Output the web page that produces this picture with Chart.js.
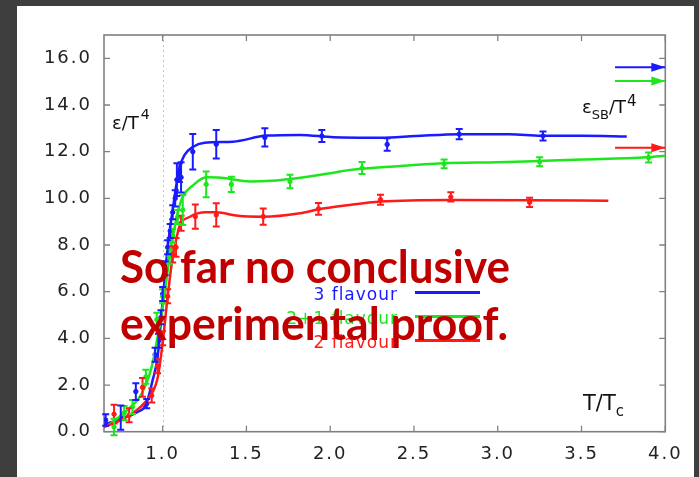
<!DOCTYPE html>
<html><head><meta charset="utf-8">
<script src="https://cdn.jsdelivr.net/npm/chart.js@4/dist/chart.umd.min.js"></script>
<style>
html,body{margin:0;padding:0;background:#3e3e3e;width:699px;height:477px;overflow:hidden;}
#panel{position:absolute;left:17px;top:6px;width:677px;height:471px;background:#fff;}
canvas{display:block;}
</style></head><body>
<div id="panel"><canvas id="c"></canvas></div>
<script>
// ---------- DATA ----------
const seriesNames = ['3 flavour', '2+1 flavour', '2 flavour'];
const xTickValues = [1.0, 1.5, 2.0, 2.5, 3.0, 3.5, 4.0];
const yTickValues = [0, 2, 4, 6, 8, 10, 12, 14, 16];

// fitted curves
const curve3T = [0.65,0.75,0.85,0.90,0.94,0.97,1.00,1.02,1.04,1.06,1.08,1.10,1.13,1.18,1.25,1.42,1.62,1.82,2.02,2.30,2.51,2.77,3.07,3.26,3.51,3.77];
const curve3V = [0.30,0.55,0.85,1.15,2.20,3.20,5.60,7.20,8.50,9.50,10.50,11.30,11.85,12.20,12.38,12.43,12.69,12.72,12.62,12.60,12.67,12.75,12.75,12.68,12.68,12.65];
const curve21T = [0.68,0.79,0.87,0.93,0.96,1.01,1.03,1.05,1.07,1.09,1.12,1.18,1.26,1.35,1.52,1.65,1.80,2.02,2.12,2.40,2.67,3.00,3.24,3.50,3.89,4.00];
const curve21V = [0.30,0.93,1.57,2.65,3.65,5.80,6.90,7.90,8.70,9.40,10.07,10.55,10.90,10.88,10.72,10.75,10.86,11.10,11.22,11.38,11.50,11.55,11.60,11.66,11.76,11.83];
const curve2T = [0.65,0.75,0.85,0.90,0.94,0.97,1.00,1.03,1.06,1.08,1.10,1.16,1.26,1.32,1.45,1.60,1.82,1.93,2.10,2.30,2.72,3.19,3.66];
const curve2V = [0.20,0.50,0.95,1.30,1.70,2.30,3.80,5.80,7.50,8.20,8.80,9.20,9.40,9.40,9.25,9.21,9.36,9.53,9.70,9.86,9.93,9.92,9.90];

// lattice points with errors
const pts3T = [0.66,0.75,0.84,0.905,0.955,0.975,0.99,1.00,1.015,1.03,1.045,1.06,1.075,1.085,1.10,1.11,1.18,1.32,1.61,1.95,2.34,2.77,3.27];
const pts3V = [0.50,0.60,1.72,1.20,3.30,3.90,4.90,5.90,7.00,7.90,8.60,9.40,10.00,10.80,11.10,10.90,12.00,12.32,12.61,12.67,12.31,12.75,12.67];
const pts3E = [0.25,0.52,0.36,0.20,0.30,0.30,0.30,0.30,0.30,0.30,0.30,0.30,0.35,0.70,0.40,0.65,0.76,0.61,0.39,0.26,0.27,0.22,0.19];
const pts21T = [0.71,0.77,0.82,0.90,0.965,1.00,1.04,1.06,1.09,1.12,1.26,1.41,1.76,2.19,2.68,3.25,3.90];
const pts21V = [0.20,0.80,1.06,2.35,4.80,5.80,7.50,8.40,9.20,9.50,10.60,10.60,10.72,11.30,11.48,11.57,11.75];
const pts21E = [0.35,0.30,0.30,0.30,0.30,0.30,0.30,0.30,0.30,0.64,0.55,0.33,0.29,0.26,0.19,0.19,0.21];
const pts2T = [0.71,0.80,0.88,0.935,0.97,1.00,1.03,1.06,1.08,1.11,1.195,1.32,1.60,1.93,2.30,2.72,3.19];
const pts2V = [0.75,0.70,1.90,1.55,2.80,4.00,5.80,7.60,7.90,8.93,9.22,9.29,9.22,9.55,9.94,10.06,9.83];
const pts2E = [0.40,0.30,0.40,0.30,0.30,0.30,0.30,0.35,0.40,0.32,0.52,0.50,0.35,0.25,0.21,0.20,0.20];

// Stefan-Boltzmann limits (arrows at right edge)
const sbArrowT = [3.70, 4.00];
const sbValues = [15.62, 15.03, 12.17];

// ---------- STYLE ----------
const COLORS = ['#1a1aff', '#1ee61e', '#ff1a1a'];
const AXIS = '#808080';

function pts(T, V) { return T.map((t, i) => ({ x: t, y: V[i] })); }

const curves = [[curve3T, curve3V], [curve21T, curve21V], [curve2T, curve2V]];
const points = [[pts3T, pts3V, pts3E], [pts21T, pts21V, pts21E], [pts2T, pts2V, pts2E]];

const datasets = [];
[2, 1, 0].forEach(k => {
  datasets.push({
    label: seriesNames[k] + ' fit', data: pts(curves[k][0], curves[k][1]),
    showLine: true, borderColor: COLORS[k], borderWidth: 2.5, pointRadius: 0,
    cubicInterpolationMode: 'monotone'
  });
  datasets.push({
    label: seriesNames[k], data: pts(points[k][0], points[k][1]), errors: points[k][2],
    showLine: false, pointRadius: 2.2, pointBackgroundColor: COLORS[k], pointBorderColor: COLORS[k],
    borderColor: COLORS[k], backgroundColor: COLORS[k]
  });
});
sbValues.forEach((v, k) => {
  datasets.push({
    label: seriesNames[k] + ' SB', data: sbArrowT.map(t => ({ x: t, y: v })), arrow: true,
    showLine: true, borderColor: COLORS[k], borderWidth: 2, pointRadius: 0
  });
});

const deco = {
  id: 'deco',
  beforeDraw(chart) { chart.ctx.letterSpacing = '2px'; },
  beforeDatasetsDraw(chart) {
    const ctx = chart.ctx, a = chart.chartArea, xs = chart.scales.x, ys = chart.scales.y;
    ctx.save();
    ctx.letterSpacing = '0px';
    ctx.strokeStyle = '#c4c4c4'; ctx.lineWidth = 1; ctx.setLineDash([2, 3]);
    const xc = Math.round(xs.getPixelForValue(1.0)) + 0.5;
    ctx.beginPath(); ctx.moveTo(xc, a.top); ctx.lineTo(xc, a.bottom); ctx.stroke();
    ctx.setLineDash([]);
    ctx.strokeStyle = AXIS; ctx.lineWidth = 1.6;
    ctx.strokeRect(a.left, a.top, a.right - a.left, a.bottom - a.top);
    ctx.lineWidth = 1.3;
    ctx.beginPath();
    xs.ticks.forEach(t => {
      const x = xs.getPixelForValue(t.value);
      ctx.moveTo(x, a.bottom); ctx.lineTo(x, a.bottom - 6);
      ctx.moveTo(x, a.top); ctx.lineTo(x, a.top + 6);
    });
    ys.ticks.forEach(t => {
      const y = ys.getPixelForValue(t.value);
      ctx.moveTo(a.left, y); ctx.lineTo(a.left + 6, y);
      ctx.moveTo(a.right, y); ctx.lineTo(a.right - 6, y);
    });
    ctx.stroke();
    ctx.restore();
    chart.ctx.letterSpacing = '0px';
  },
  afterDatasetsDraw(chart) {
    const ctx = chart.ctx, xs = chart.scales.x, ys = chart.scales.y;
    ctx.save();
    ctx.letterSpacing = '0px';
    chart.data.datasets.forEach((ds, di) => {
      const meta = chart.getDatasetMeta(di);
      if (ds.errors) {
        ctx.strokeStyle = ds.borderColor; ctx.lineWidth = 2;
        ctx.beginPath();
        ds.data.forEach((p, i) => {
          const x = meta.data[i].x;
          const y1 = ys.getPixelForValue(p.y + ds.errors[i]);
          const y2 = ys.getPixelForValue(p.y - ds.errors[i]);
          ctx.moveTo(x, y1); ctx.lineTo(x, y2);
          ctx.moveTo(x - 3.5, y1); ctx.lineTo(x + 3.5, y1);
          ctx.moveTo(x - 3.5, y2); ctx.lineTo(x + 3.5, y2);
        });
        ctx.stroke();
      }
      if (ds.arrow) {
        const end = ds.data[ds.data.length - 1];
        const x = xs.getPixelForValue(end.x), y = ys.getPixelForValue(end.y);
        ctx.fillStyle = ds.borderColor;
        ctx.beginPath();
        ctx.moveTo(x, y); ctx.lineTo(x - 14, y - 4.5); ctx.lineTo(x - 14, y + 4.5); ctx.closePath();
        ctx.fill();
      }
    });

    const OX = 17, OY = 6;
    ctx.fillStyle = '#111';
    ctx.textAlign = 'left'; ctx.textBaseline = 'alphabetic';
    ctx.font = '18px "DejaVu Sans"';
    ctx.fillText('ε/T', 112 - OX, 129 - OY);
    let w = ctx.measureText('ε/T').width;
    ctx.font = '14px "DejaVu Sans"';
    ctx.fillText('4', 112 - OX + w + 2, 119 - OY);

    let x0 = 582 - OX;
    ctx.font = '18px "DejaVu Sans"';
    ctx.fillText('ε', x0, 113 - OY); x0 += ctx.measureText('ε').width;
    ctx.font = '13px "DejaVu Sans"';
    ctx.fillText('SB', x0, 119 - OY); x0 += ctx.measureText('SB').width;
    ctx.font = '18px "DejaVu Sans"';
    ctx.fillText('/T', x0, 113 - OY); x0 += ctx.measureText('/T').width;
    ctx.font = '15px "DejaVu Sans"';
    ctx.fillText('4', x0 + 1, 106 - OY);

    x0 = 583 - OX;
    ctx.font = '21px "DejaVu Sans"';
    ctx.fillText('T/T', x0, 410 - OY); x0 += ctx.measureText('T/T').width;
    ctx.font = '15px "DejaVu Sans"';
    ctx.fillText('c', x0, 416 - OY);

    const legY = [292.5, 316.5, 340.5];
    ctx.font = '17px "DejaVu Sans"';
    ctx.textAlign = 'right';
    ctx.letterSpacing = '1px';
    seriesNames.forEach((n, k) => {
      ctx.fillStyle = COLORS[k];
      ctx.fillText(n, 398 - OX, legY[k] + 7 - OY);
    });
    ctx.letterSpacing = '0px';
    ctx.lineWidth = 3;
    seriesNames.forEach((n, k) => {
      ctx.strokeStyle = COLORS[k];
      ctx.beginPath(); ctx.moveTo(415 - OX, legY[k] - OY); ctx.lineTo(480 - OX, legY[k] - OY); ctx.stroke();
    });

    ctx.textAlign = 'left';
    ctx.fillStyle = '#c00000';
    ctx.font = 'bold 45px Lato';
    const lines = [['So far no conclusive', 283, 390], ['experimental proof.', 339.5, 388]];
    lines.forEach(([txt, base, tw]) => {
      const mw = ctx.measureText(txt).width;
      ctx.save();
      ctx.translate(120 - OX, base - OY);
      ctx.scale(tw / mw, 1);
      ctx.fillText(txt, 0, 0);
      ctx.restore();
    });
    ctx.restore();
  }
};

new Chart(document.getElementById('c'), {
  type: 'scatter',
  data: { datasets },
  options: {
    responsive: true, maintainAspectRatio: false, animation: false,
    layout: { padding: { top: 29, right: 28.7, left: 0, bottom: 0 } },
    plugins: { legend: { display: false }, tooltip: { enabled: false } },
    scales: {
      x: {
        type: 'linear', min: 0.65, max: 4.0,
        afterBuildTicks: s => { s.ticks = xTickValues.map(v => ({ value: v })); },
        afterFit: s => { s.height = 45.3; },
        grid: { display: false, drawTicks: false },
        border: { display: false },
        ticks: { padding: 12, maxRotation: 0, autoSkip: false, color: '#222',
          font: { family: 'DejaVu Sans', size: 18 }, callback: v => Number(v).toFixed(1) }
      },
      y: {
        type: 'linear', min: 0, max: 17,
        afterBuildTicks: s => { s.ticks = yTickValues.map(v => ({ value: v })); },
        afterFit: s => { s.width = 87; },
        grid: { display: false, drawTicks: false },
        border: { display: false },
        ticks: { padding: 12, color: '#222',
          font: { family: 'DejaVu Sans', size: 18 }, callback: v => Number(v).toFixed(1) }
      }
    }
  },
  plugins: [deco]
});
</script>
</body></html>
